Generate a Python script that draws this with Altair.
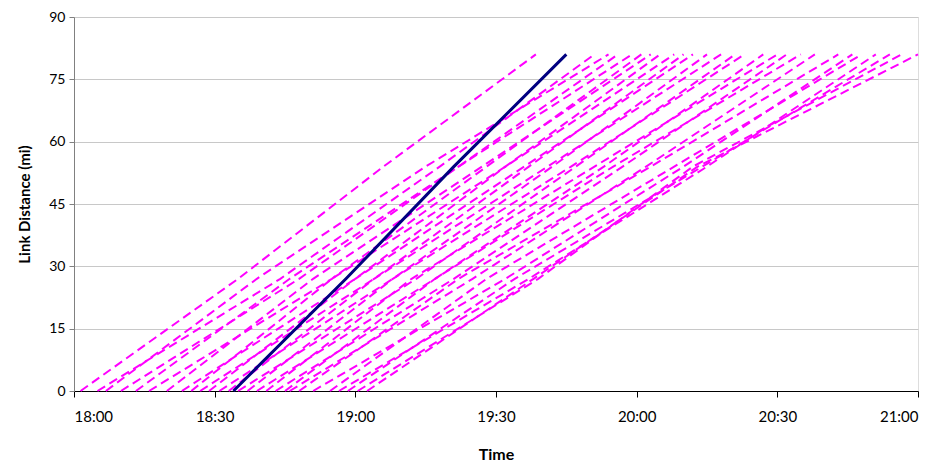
import altair as alt
import pandas as pd

# distances (mi) at which each trajectory is read
distances = [0, 27, 54, 81]

# minutes after 18:00 at which each magenta trajectory reaches the distances above
start_times = [1.4, 5, 6.8, 10, 13.2, 16, 19.8, 23, 25, 26.9, 28.8, 31, 33, 35,
               37, 39, 41, 43, 45, 46, 48, 51, 54.6, 56.5, 58.4, 60.5, 62.5]
t_at_27 = [35, 44, 39, 48, 46, 55, 51, 60, 55, 64, 60, 68, 64, 73,
           68, 77, 72, 81, 77, 85, 82, 92, 88, 97, 94, 99, 98]
t_at_54 = [66, 78, 75, 82, 82, 88, 87, 92, 92, 97, 96, 102, 101, 107,
           106, 113, 111, 117, 115, 122, 123, 130, 128, 135, 134, 132, 133]
end_times = [98.5, 111, 114, 116, 119, 121, 123, 125, 128, 130, 132, 135, 138, 141,
             143, 147, 150, 152, 155, 158, 163, 166, 168, 171, 174, 176.5, 180]

# navy trajectory
probe_times = [34, 58, 81, 105]

rows = []
for i in range(len(start_times)):
    ts = [start_times[i], t_at_27[i], t_at_54[i], end_times[i]]
    for t, d in zip(ts, distances):
        rows.append({"line": i, "t": t, "d": d})
magenta_df = pd.DataFrame(rows)
navy_df = pd.DataFrame({"t": probe_times, "d": distances})

FONT = "Lato"

x_enc = alt.X("t:Q", title="Time",
              scale=alt.Scale(domain=[0, 180], nice=False, zero=False),
              axis=alt.Axis(values=[0, 30, 60, 90, 120, 150, 180],
                            labelExpr="timeFormat(datetime(2000,0,1,18,datum.value), '%H:%M')",
                            grid=False, tickSize=6, domainColor="#000000", tickColor="#000000",
                            labelFontSize=15, labelPadding=12, labelColor="#000000",
                            titleFontSize=16, titleFontWeight="bold", titlePadding=22,
                            titleColor="#000000", labelFont=FONT, titleFont=FONT))
y_enc = alt.Y("d:Q", title="Link Distance (mi)",
              scale=alt.Scale(domain=[0, 90], nice=False),
              axis=alt.Axis(values=[0, 15, 30, 45, 60, 75, 90],
                            grid=True, gridColor="#C8C8C8", gridWidth=1,
                            tickSize=5, domainColor="#808080", tickColor="#808080",
                            labelFontSize=14, labelPadding=4, labelColor="#000000",
                            titleFontSize=15, titleFontWeight="bold", titlePadding=16,
                            titleColor="#000000", labelFont=FONT, titleFont=FONT))

magenta = alt.Chart(magenta_df).mark_line(
    color="#FF00FF", strokeWidth=2, strokeDash=[9, 5]
).encode(x=x_enc, y=y_enc, detail="line:N", order="d:Q")

navy = alt.Chart(navy_df).mark_line(
    color="#000080", strokeWidth=3
).encode(x="t:Q", y="d:Q", order="d:Q")

chart = alt.layer(magenta, navy).properties(
    width=844, height=374,
    autosize=alt.AutoSizeParams(type="none"),
    padding={"left": 66, "top": 9, "right": 12, "bottom": 70},
).configure_view(stroke=None).configure(background="white")

chart.save("out.html", embed_options={"renderer": "svg", "actions": False})
